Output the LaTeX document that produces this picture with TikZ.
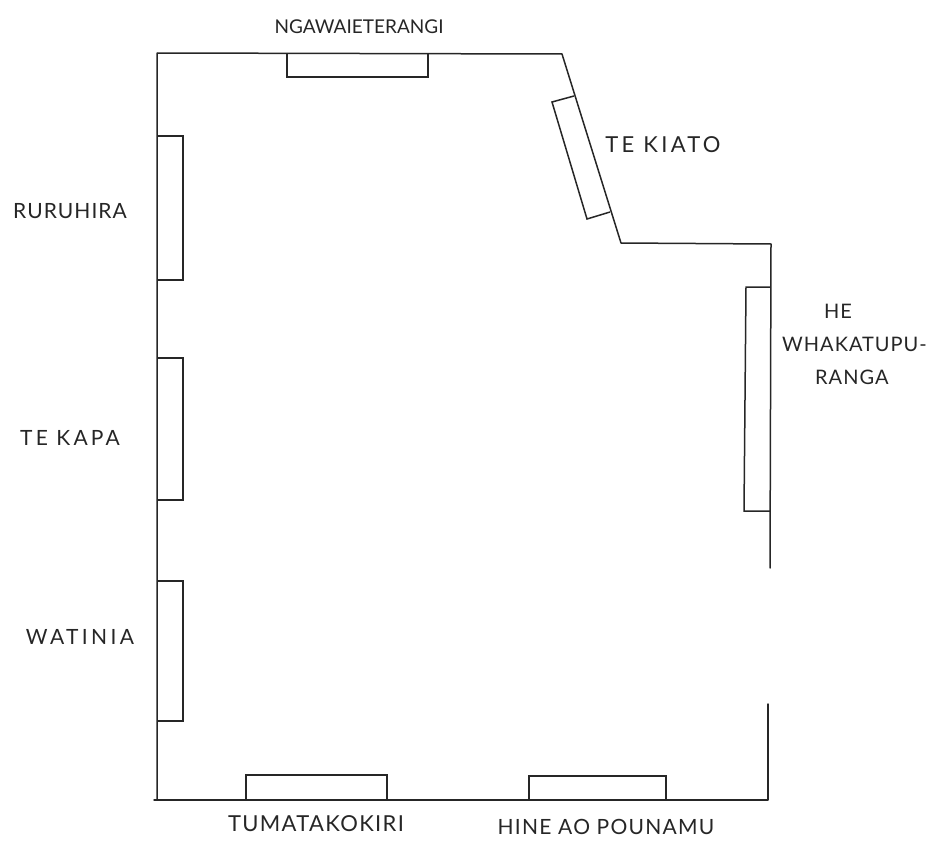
\documentclass[tikz,border=0pt]{standalone}
\usepackage{fontspec}
\setmainfont{Lato}
\newcommand{\lbl}[3]{\fontsize{#1}{33}\selectfont\addfontfeature{LetterSpace=#2}#3}
\tikzset{
  wall/.style={draw=black!85,line width=1.5pt,line cap=round,line join=round},
  panel/.style={draw=black!85,line width=1.5pt,line join=miter},
  lab/.style={text=black!85,align=center,inner sep=0pt},
}
\begin{document}
\begin{tikzpicture}[x=1pt,y=-1pt]
\useasboundingbox (0,0) rectangle (934,843);
% walls
\draw[wall] (770,568) -- (771,244) -- (621,243) -- (562,54) -- (157,53) -- (157,800);
\draw[wall] (154,800) -- (768,800) -- (768,704);
% panels
\draw[panel] (287,53) -- (287,77) -- (428,77) -- (428,53);
\draw[panel] (574,96) -- (552,102) -- (587,219) -- (610,212);
\draw[panel] (157,136) -- (183,136) -- (183,280) -- (157,280);
\draw[panel] (157,358) -- (183,358) -- (183,500) -- (157,500);
\draw[panel] (157,581) -- (183,581) -- (183,721) -- (157,721);
\draw[panel] (246,800) -- (246,775) -- (387,775) -- (387,800);
\draw[panel] (529,800) -- (529,776) -- (666,776) -- (666,800);
\draw[panel] (770,287) -- (746,287) -- (744,511) -- (770,511);
% labels
\node[lab] (ngawai) at (359,27) {\lbl{19}{0}{NGAWAIETERANGI}};
\node[lab] (kiato) at (663,145) {\lbl{22}{15}{TE KIATO}};
\node[lab] (ruru) at (70,211) {\lbl{21}{5}{RURUHIRA}};
\node[lab] (kapa) at (70,438) {\lbl{21}{15}{TE KAPA}};
\node[lab] (watinia) at (80,637) {\lbl{21}{16}{WATINIA}};
\node[lab] (tuma) at (316,824) {\lbl{22}{6}{TUMATAKOKIRI}};
\node[lab] (hine) at (606,827) {\lbl{21}{6}{HINE AO POUNAMU}};
\node[lab,align=left,anchor=west,font={\fontsize{20}{33}\selectfont\addfontfeature{LetterSpace=5}}] (he) at (782,344) {\hspace*{42pt}HE\\WHAKATUPU-\\\hspace*{33pt}RANGA};
\end{tikzpicture}
\end{document}
